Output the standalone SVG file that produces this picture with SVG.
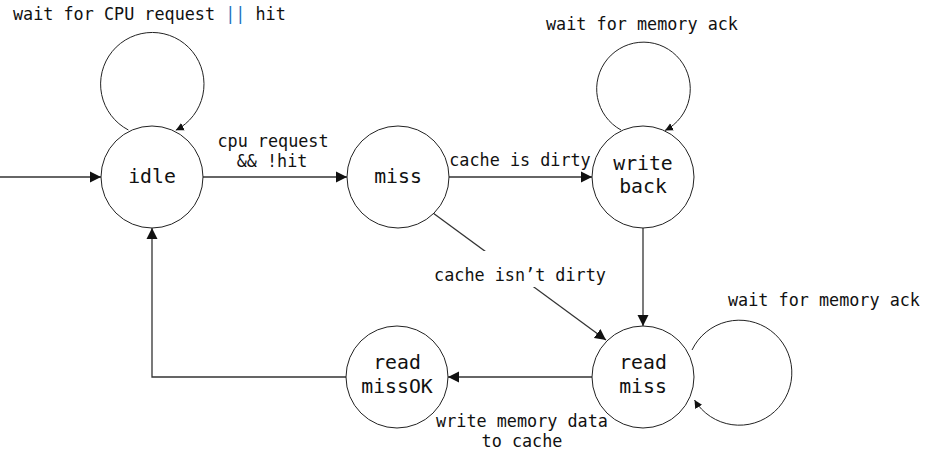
<svg xmlns="http://www.w3.org/2000/svg" width="931" height="462" viewBox="0 0 931 462">
<defs>
<style>
.node{fill:#fff;stroke:#222;stroke-width:1}
.edge{fill:none;stroke:#333;stroke-width:1.3}
.loop{fill:none;stroke:#222;stroke-width:1}
.nl{font-family:"DejaVu Sans Mono","Liberation Mono",monospace;font-size:19.8px;fill:#111;text-anchor:middle}
.el{font-family:"DejaVu Sans Mono","Liberation Mono",monospace;font-size:16.8px;fill:#111}
.mid{text-anchor:middle}
</style>
<marker id="arr" markerWidth="12" markerHeight="12" viewBox="0 0 12 12" refX="11" refY="6" orient="auto" markerUnits="userSpaceOnUse">
<path d="M0,0.5 L11,6 L0,11.5 Z" fill="#111"/>
</marker>
<marker id="arrs" markerWidth="9" markerHeight="9" viewBox="0 0 9 9" refX="8" refY="4.5" orient="auto" markerUnits="userSpaceOnUse">
<path d="M0,0.5 L8,4.5 L0,8.5 Z" fill="#111"/>
</marker>
</defs>
<rect width="931" height="462" fill="#fff"/>
<g id="connectors">
<line class="edge" x1="0" y1="177" x2="101" y2="177" marker-end="url(#arr)"/>
<line class="edge" x1="203" y1="177" x2="347" y2="177" marker-end="url(#arr)"/>
<line class="edge" x1="449" y1="177" x2="592" y2="177" marker-end="url(#arr)"/>
<line class="edge" x1="433" y1="213" x2="606" y2="340" marker-end="url(#arr)"/>
<line class="edge" x1="643" y1="228" x2="643" y2="326" marker-end="url(#arr)"/>
<line class="edge" x1="592" y1="377" x2="448" y2="377" marker-end="url(#arr)"/>
<polyline class="edge" points="347,377 152,377 152,228" marker-end="url(#arr)"/>
<path class="loop" d="M128.4,130 A51.7,51.7 0 1,1 175.8,130.2" marker-end="url(#arrs)"/>
<path class="loop" d="M621,130 A46.8,46.8 0 1,1 665,130.5" marker-end="url(#arrs)"/>
<path class="loop" d="M692,350 A52.5,52.5 0 1,1 694.5,400" marker-end="url(#arrs)"/>
<rect x="433" y="251" width="174" height="36" fill="#fff"/>
</g>
<g id="idle"><circle class="node" cx="152" cy="177" r="51"/><text class="nl" x="152" y="183">idle</text></g>
<g id="miss"><circle class="node" cx="398" cy="177" r="51"/><text class="nl" x="398" y="183">miss</text></g>
<g id="writeback"><circle class="node" cx="643" cy="177" r="51"/><text class="nl" x="643" y="170">write</text><text class="nl" x="643" y="193">back</text></g>
<g id="readmiss"><circle class="node" cx="643" cy="377" r="51"/><text class="nl" x="643" y="369">read</text><text class="nl" x="643" y="393">miss</text></g>
<g id="readmissOK"><circle class="node" cx="397" cy="377" r="51"/><text class="nl" x="397" y="369">read</text><text class="nl" x="397" y="393">missOK</text></g>
<g id="labels">
<text class="el" x="13" y="20">wait for CPU request <tspan fill="#1e73be">||</tspan> hit</text>
<text class="el mid" x="273" y="147">cpu request</text>
<text class="el mid" x="272" y="167">&amp;&amp; !hit</text>
<text class="el mid" x="520" y="166">cache is dirty</text>
<text class="el mid" x="642" y="30">wait for memory ack</text>
<text class="el mid" x="520" y="281">cache isn’t dirty</text>
<text class="el mid" x="824" y="306">wait for memory ack</text>
<text class="el mid" x="522" y="427">write memory data</text>
<text class="el mid" x="522" y="447">to cache</text>
</g>
</svg>
